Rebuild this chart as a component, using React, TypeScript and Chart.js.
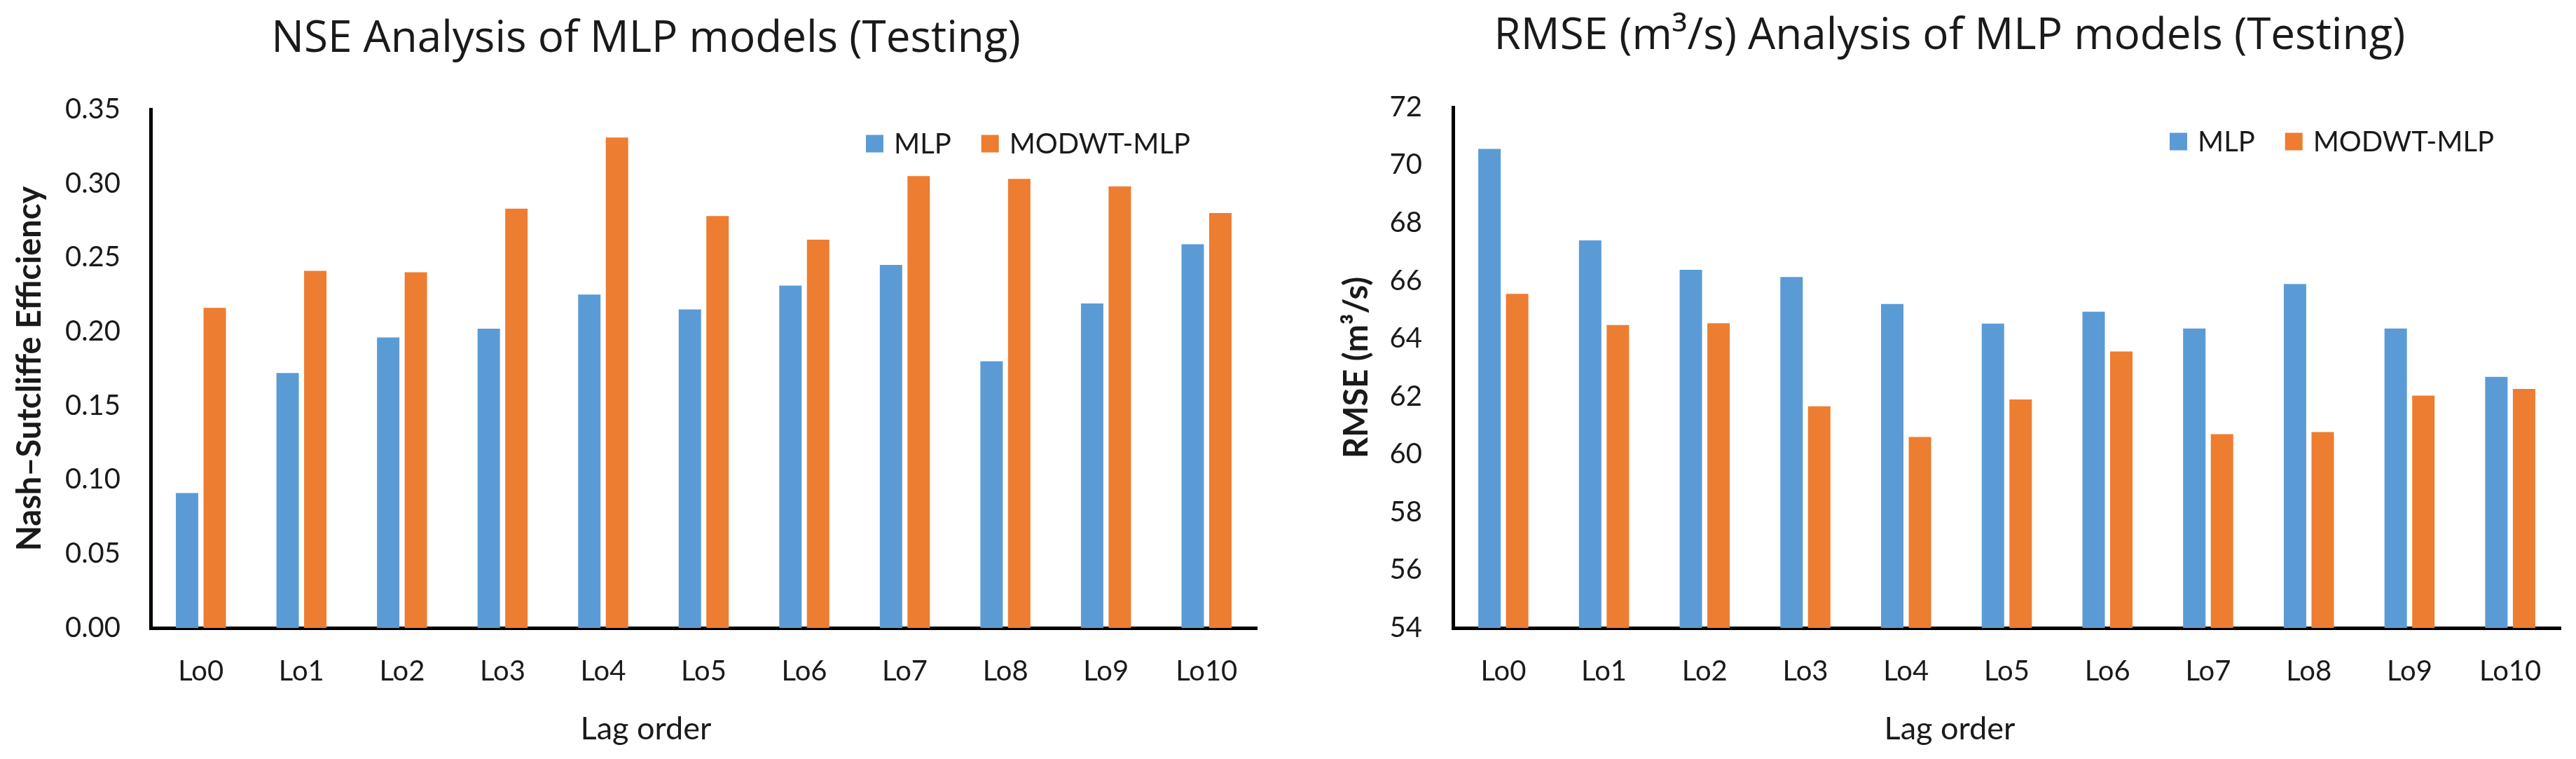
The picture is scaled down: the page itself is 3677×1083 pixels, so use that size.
import React, { useEffect, useRef } from "react";
import { Chart, registerables } from "chart.js";

Chart.register(...registerables);

// ---------------- data ----------------
const lagOrders = ["Lo0", "Lo1", "Lo2", "Lo3", "Lo4", "Lo5", "Lo6", "Lo7", "Lo8", "Lo9", "Lo10"];
const seriesNames = ["MLP", "MODWT-MLP"];

const nseMLP = [0.091, 0.172, 0.196, 0.202, 0.225, 0.215, 0.231, 0.245, 0.18, 0.219, 0.259];
const nseMODWT = [0.216, 0.241, 0.24, 0.283, 0.331, 0.278, 0.262, 0.305, 0.303, 0.298, 0.28];

const rmseMLP = [70.56, 67.4, 66.38, 66.13, 65.2, 64.52, 64.93, 64.35, 65.89, 64.35, 62.68];
const rmseMODWT = [65.55, 64.47, 64.53, 61.66, 60.6, 61.9, 63.56, 60.7, 60.77, 62.03, 62.26];

const nseTicks = [0, 0.05, 0.1, 0.15, 0.2, 0.25, 0.3, 0.35];
const rmseTicks = [54, 56, 58, 60, 62, 64, 66, 68, 70, 72];

const nseTitle = "NSE Analysis of MLP models (Testing)";
const rmseTitle = "RMSE (m\u00B3/s) Analysis of MLP models (Testing)";
const nseYTitle = "Nash\u2013Sutcliffe Efficiency";
const rmseYTitle = "RMSE (m\u00B3/s)";
const xTitle = "Lag order";

// ---------------- style ----------------
const COLORS = ["#5B9BD5", "#ED7D31"];
const FONT = "Lato, 'Open Sans', 'DejaVu Sans', sans-serif";
const TITLE_FONT = "'Open Sans', Lato, 'DejaVu Sans', sans-serif";
const TEXT = "#1a1a1a";
const H = 1083;

const insideLegend = {
  id: "insideLegend",
  afterDraw(chart: any, _args: any, opts: any) {
    const { ctx, chartArea } = chart;
    ctx.save();
    ctx.font = `${opts.fontSize}px ${FONT}`;
    ctx.textBaseline = "middle";
    ctx.textAlign = "left";
    let x = chartArea.right - opts.startFromRight;
    const y = chartArea.top + opts.topOffset;
    chart.data.datasets.forEach((ds: any) => {
      ctx.fillStyle = ds.backgroundColor;
      ctx.fillRect(x, y - opts.box / 2, opts.box, opts.box);
      ctx.fillStyle = TEXT;
      ctx.fillText(ds.label, x + opts.box + opts.boxGap, y + 1);
      x += opts.box + opts.boxGap + ctx.measureText(ds.label).width + opts.itemGap;
    });
    ctx.restore();
  },
};

type Spec = {
  left: number;
  width: number;
  title: string;
  yTitle: string;
  a: number[];
  b: number[];
  ticks: number[];
  decimals: number;
  yWidth: number;
  rightWidth: number;
  tickPad: number;
  yTitlePad: number;
  titleTop: number;
  titleBottom: number;
};

function buildConfig(s: Spec): any {
  return {
    type: "bar",
    data: {
      labels: lagOrders,
      datasets: [
        { label: seriesNames[0], data: s.a, backgroundColor: COLORS[0], borderWidth: 0 },
        { label: seriesNames[1], data: s.b, backgroundColor: COLORS[1], borderWidth: 0 },
      ],
    },
    options: {
      responsive: false,
      animation: false,
      devicePixelRatio: 1,
      categoryPercentage: 0.55,
      barPercentage: 0.81,
      layout: { padding: 0 },
      plugins: {
        legend: { display: false },
        tooltip: { enabled: false },
        title: {
          display: true,
          text: s.title,
          color: TEXT,
          font: { family: TITLE_FONT, size: 62, weight: "normal", lineHeight: 1.2 },
          padding: { top: s.titleTop, bottom: s.titleBottom },
        },
        subtitle: {
          display: true,
          position: "bottom",
          text: xTitle,
          color: TEXT,
          font: { family: FONT, size: 45, weight: "normal" },
          padding: { top: 27, bottom: 16 },
        },
        insideLegend: {
          fontSize: 40,
          box: 25,
          boxGap: 15,
          itemGap: 43,
          startFromRight: 558,
          topOffset: 49,
        },
      },
      scales: {
        x: {
          grid: { display: false, drawTicks: false },
          border: { display: true, color: "#000", width: 5 },
          ticks: { color: TEXT, padding: 38, font: { family: FONT, size: 40 } },
          afterFit: (sc: any) => {
            sc.height = 90;
          },
        },
        y: {
          min: s.ticks[0],
          max: s.ticks[s.ticks.length - 1],
          grid: { display: false, drawTicks: false },
          border: { display: true, color: "#000", width: 5 },
          afterBuildTicks: (sc: any) => {
            sc.ticks = s.ticks.map((v) => ({ value: v }));
          },
          ticks: {
            color: TEXT,
            padding: s.tickPad,
            font: { family: FONT, size: 40 },
            callback: (v: any) => Number(v).toFixed(s.decimals),
          },
          title: {
            display: true,
            text: s.yTitle,
            color: TEXT,
            font: { family: FONT, size: 47, weight: "bold" },
            padding: { top: s.yTitlePad, bottom: 0 },
          },
          afterFit: (sc: any) => {
            sc.width = s.yWidth;
          },
        },
        yR: {
          position: "right",
          display: true,
          grid: { display: false, drawTicks: false },
          border: { display: false },
          ticks: { display: false },
          title: { display: false },
          afterFit: (sc: any) => {
            sc.width = s.rightWidth;
          },
        },
      },
    },
    plugins: [insideLegend],
  };
}

function BarPanel({ spec }: { spec: Spec }) {
  const ref = useRef<HTMLCanvasElement>(null);
  useEffect(() => {
    const chart = new Chart(ref.current as HTMLCanvasElement, buildConfig(spec));
    return () => chart.destroy();
  }, []);
  return (
    <canvas
      ref={ref}
      width={spec.width}
      height={H}
      style={{ position: "absolute", left: spec.left, top: 0, width: spec.width + "px", height: H + "px" }}
    />
  );
}

const leftSpec: Spec = {
  left: 0,
  width: 1844,
  title: nseTitle,
  yTitle: nseYTitle,
  a: nseMLP,
  b: nseMODWT,
  ticks: nseTicks,
  decimals: 2,
  yWidth: 215,
  rightWidth: 50,
  tickPad: 43,
  yTitlePad: 15,
  titleTop: 19,
  titleBottom: 62.6,
};

const rightSpec: Spec = {
  left: 1889,
  width: 1788,
  title: rmseTitle,
  yTitle: rmseYTitle,
  a: rmseMLP,
  b: rmseMODWT,
  ticks: rmseTicks,
  decimals: 0,
  yWidth: 185,
  rightWidth: 22,
  tickPad: 44,
  yTitlePad: 20,
  titleTop: 15.3,
  titleBottom: 63.3,
};

export default function App() {
  return (
    <div
      style={{
        position: "absolute",
        left: 0,
        top: 0,
        width: 3677,
        height: H,
        overflow: "hidden",
        background: "#fff",
      }}
    >
      <BarPanel spec={leftSpec} />
      <BarPanel spec={rightSpec} />
    </div>
  );
}
